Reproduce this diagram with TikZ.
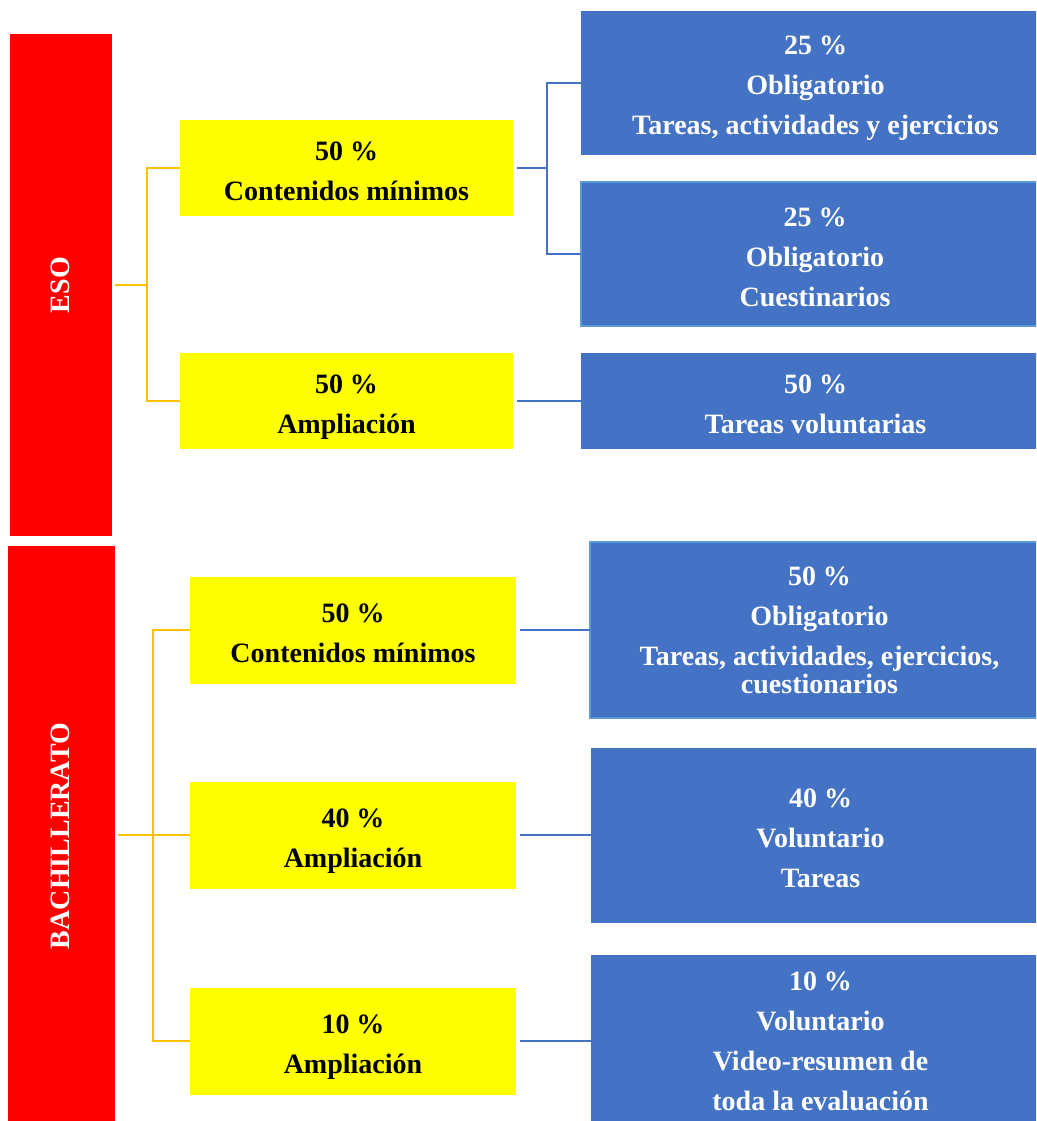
\documentclass[tikz,border=0pt]{standalone}
\usepackage{fontspec}
\setmainfont{Liberation Serif}
\definecolor{eRed}{HTML}{FF0000}
\definecolor{eYellow}{HTML}{FFFF00}
\definecolor{eBlue}{HTML}{4472C4}
\definecolor{eBorder}{HTML}{5B9BD5}
\definecolor{eOrange}{HTML}{FFC000}
\newcommand{\ts}[1][32pt]{\rule{0pt}{#1}\ignorespaces}
\newcommand{\botstrut}{\rule[-8pt]{0pt}{8pt}}
\begin{document}
\begin{tikzpicture}[x=1pt,y=-1pt,
  box/.style={inner sep=0pt, outer sep=0pt, align=center, font=\bfseries\fontsize{28}{40}\selectfont,
    execute at end node=\botstrut},
  redbox/.style={inner sep=0pt, outer sep=0pt, fill=eRed},
  redtext/.style={inner sep=0pt, text=white, rotate=90, font=\bfseries\fontsize{28}{32}\selectfont},
  yellowbox/.style={box, fill=eYellow, text=black},
  bluebox/.style={box, fill=eBlue, text=white},
  bordered/.style={draw=eBorder, line width=2pt},
  oline/.style={draw=eOrange, line width=2pt},
  bline/.style={draw=eBlue, line width=2pt}]
\clip (0,0) rectangle (1036,1121);
\fill[white] (0,0) rectangle (1036,1121);
% red boxes
\node[redbox, minimum width=102pt, minimum height=502pt] (eso) at (61,285) {};
\node[redtext] (esot) at (60.5,285) {ESO};
\node[redbox, minimum width=107pt, minimum height=579pt] (bach) at (61.5,835) {};
\node[redtext] (bacht) at (60.5,836) {BACHILLERATO};
% yellow boxes
\node[yellowbox, minimum width=333pt, minimum height=96pt] (y1) at (346.5,168) {\ts 50 \%\\Contenidos mínimos};
\node[yellowbox, minimum width=333pt, minimum height=96pt] (y2) at (346.5,401) {\ts 50 \%\\Ampliación};
\node[yellowbox, minimum width=326pt, minimum height=107pt] (yb1) at (353,630) {\ts 50 \%\\Contenidos mínimos};
\node[yellowbox, minimum width=326pt, minimum height=107pt] (yb2) at (353,835) {\ts 40 \%\\Ampliación};
\node[yellowbox, minimum width=326pt, minimum height=107pt] (yb3) at (353,1041) {\ts 10 \%\\Ampliación};
% blue boxes
\node[bluebox, minimum width=469pt, minimum height=144pt] (b1) at (815.5,83) {\ts 25 \%\\Obligatorio\\Tareas, actividades y ejercicios};
\node[bluebox, bordered, minimum width=468pt, minimum height=144pt] (b2) at (815,254) {\ts 25 \%\\Obligatorio\\Cuestinarios};
\node[bluebox, minimum width=469pt, minimum height=96pt] (b3) at (815.5,401) {\ts 50 \%\\Tareas voluntarias};
\node[bluebox, bordered, minimum width=459pt, minimum height=176pt] (bb1) at (819.5,630) {\ts[26pt]50 \%\\Obligatorio\\Tareas, actividades, ejercicios,\\[-12pt]cuestionarios};
\node[bluebox, minimum width=459pt, minimum height=175pt] (bb2) at (820.5,835) {\ts 40 \%\\Voluntario\\Tareas};
\node[bluebox, minimum width=459pt, minimum height=172pt] (bb3) at (820.5,1041) {\ts[27pt]10 \%\\Voluntario\\Video-resumen de\\toda la evaluación};
% orange connectors
\draw[oline, shorten <=3pt] (eso.east) -- ++(35,0) coordinate (oj1) |- (y1.west);
\draw[oline] (oj1) |- (y2.west);
\draw[oline, shorten <=3pt] (bach.east) -- ++(38,0) coordinate (oj2) |- (yb1.west);
\draw[oline] (oj2) |- (yb2.west);
\draw[oline] (oj2) |- (yb3.west);
% blue connectors
\draw[bline, shorten <=4pt] (y1.east) -- ++(34,0) coordinate (bj1) |- (b1.west);
\draw[bline] (bj1) |- (b2.west);
\draw[bline, shorten <=4pt] (y2.east) -- (b3.west);
\draw[bline, shorten <=4pt] (yb1.east) -- (bb1.west);
\draw[bline, shorten <=4pt] (yb2.east) -- (bb2.west);
\draw[bline, shorten <=4pt] (yb3.east) -- (bb3.west);
\end{tikzpicture}
\end{document}
